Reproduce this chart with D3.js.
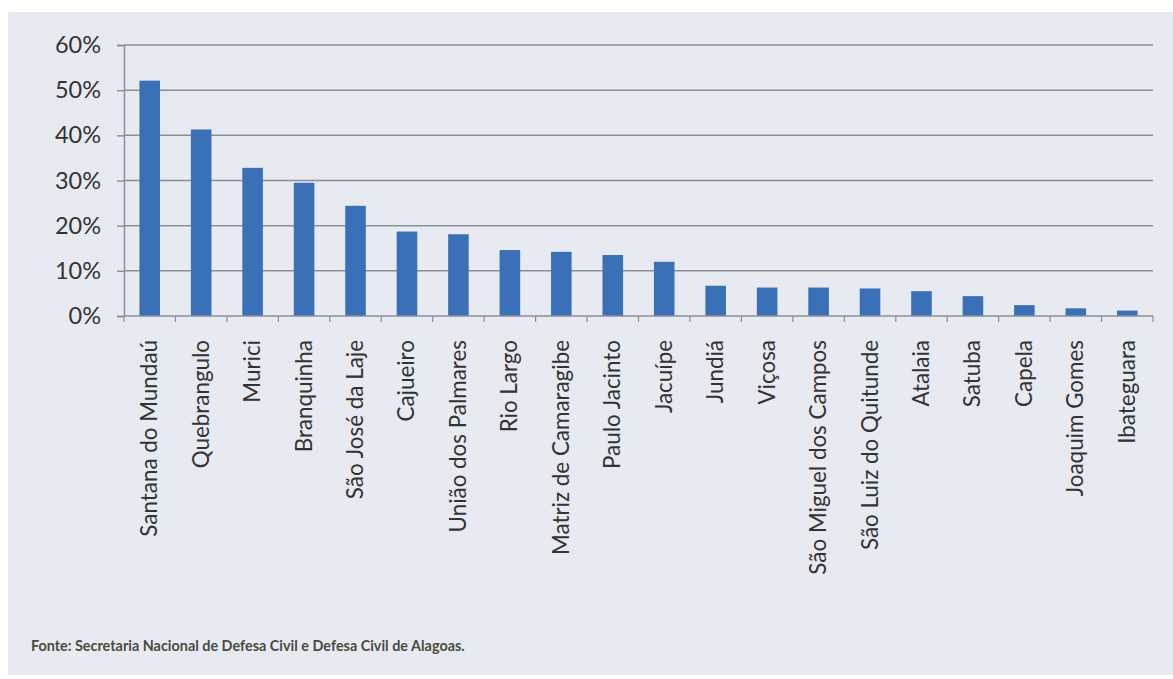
<!DOCTYPE html>
<html>
<head>
<meta charset="utf-8">
<script src="https://cdn.jsdelivr.net/npm/d3@7"></script>
<style>
  html, body { margin: 0; padding: 0; background: #ffffff; }
  svg { display: block; }
</style>
</head>
<body>
<svg id="chart" width="1173" height="679"></svg>
<script>
// ---- data ----
const categories = [
  "Santana do Mundaú", "Quebrangulo", "Murici", "Branquinha", "São José da Laje",
  "Cajueiro", "União dos Palmares", "Rio Largo", "Matriz de Camaragibe", "Paulo Jacinto",
  "Jacuípe", "Jundiá", "Viçosa", "São Miguel dos Campos", "São Luiz do Quitunde",
  "Atalaia", "Satuba", "Capela", "Joaquim Gomes", "Ibateguara"
];
const values = [
  0.521, 0.413, 0.328, 0.295, 0.244,
  0.187, 0.181, 0.146, 0.142, 0.135,
  0.120, 0.067, 0.063, 0.063, 0.061,
  0.055, 0.044, 0.024, 0.017, 0.012
];
const yTicks = [0, 0.1, 0.2, 0.3, 0.4, 0.5, 0.6];
const footnote = "Fonte: Secretaria Nacional de Defesa Civil e Defesa Civil de Alagoas.";

// ---- layout ----
const W = 1173, H = 679;
const plot = { left: 124, right: 1153, top: 45, bottom: 316 };
const FONT = "Lato, 'Open Sans', sans-serif";

const svg = d3.select("#chart");

// panel background
svg.append("rect")
  .attr("x", 8).attr("y", 12)
  .attr("width", W - 8).attr("height", 663)
  .attr("fill", "#e8eaf2");

const x = d3.scaleBand()
  .domain(categories)
  .range([plot.left, plot.right])
  .paddingInner(0.6)
  .paddingOuter(0.3);

const y = d3.scaleLinear()
  .domain([0, 0.6])
  .range([plot.bottom, plot.top]);

// gridlines
svg.append("g")
  .selectAll("line")
  .data(yTicks.filter(d => d > 0))
  .join("line")
  .attr("x1", plot.left).attr("x2", plot.right)
  .attr("y1", d => y(d)).attr("y2", d => y(d))
  .attr("stroke", "#8c8f98")
  .attr("stroke-width", 1.5);

// y axis
const yAxis = svg.append("g")
  .attr("transform", `translate(${plot.left},0)`)
  .call(d3.axisLeft(y).tickValues(yTicks).tickFormat(d3.format(".0%")).tickSize(7).tickPadding(16));
yAxis.select(".domain").attr("stroke", "#8c8f98").attr("stroke-width", 1.5);
yAxis.selectAll(".tick line").attr("stroke", "#8c8f98").attr("stroke-width", 1.5);
yAxis.selectAll("text")
  .attr("font-family", FONT)
  .attr("font-size", 23.5)
  .attr("fill", "#333333");

// bars
svg.append("g")
  .selectAll("rect")
  .data(values)
  .join("rect")
  .attr("x", (d, i) => x(categories[i]))
  .attr("width", x.bandwidth())
  .attr("y", d => y(d))
  .attr("height", d => y(0) - y(d))
  .attr("fill", "#3a70b8");

// x axis line + boundary ticks
const boundaries = d3.range(categories.length + 1).map(i => plot.left + i * (plot.right - plot.left) / categories.length);
svg.append("line")
  .attr("x1", plot.left).attr("x2", plot.right)
  .attr("y1", y(0)).attr("y2", y(0))
  .attr("stroke", "#8c8f98").attr("stroke-width", 1.5);
svg.append("g")
  .selectAll("line")
  .data(boundaries)
  .join("line")
  .attr("x1", d => d).attr("x2", d => d)
  .attr("y1", y(0)).attr("y2", y(0) + 6)
  .attr("stroke", "#8c8f98").attr("stroke-width", 1.2);

// category labels (rotated)
svg.append("g")
  .selectAll("text")
  .data(categories)
  .join("text")
  .attr("transform", d => `translate(${x(d) + x.bandwidth() / 2 + 7.5},340) rotate(-90)`)
  .attr("text-anchor", "end")
  .attr("font-family", FONT)
  .attr("font-size", 22.4)
  .attr("fill", "#333333")
  .text(d => d);

// footnote
svg.append("text")
  .attr("x", 31).attr("y", 651)
  .attr("font-family", FONT)
  .attr("font-size", 14.4)
  .attr("font-weight", "bold")
  .attr("fill", "#4a4a40")
  .text(footnote);
</script>
</body>
</html>
